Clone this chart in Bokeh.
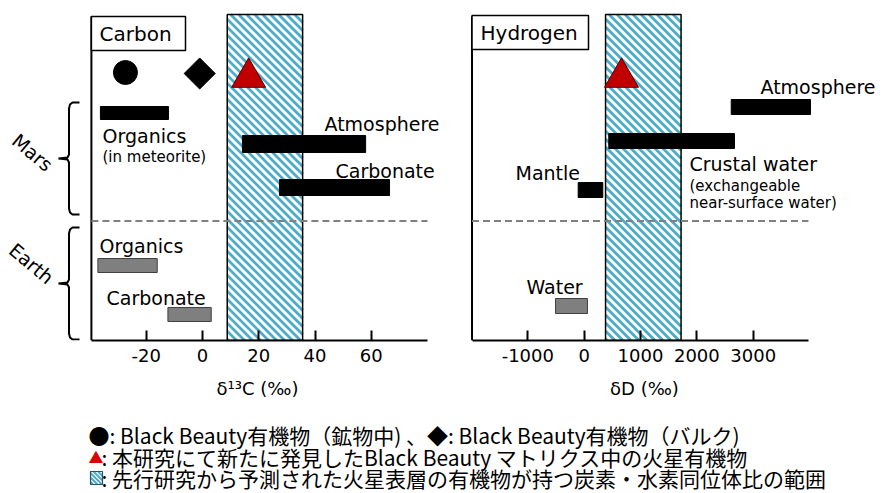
import numpy as np
from bokeh.plotting import figure
from bokeh.models import Range1d, FixedTicker
from bokeh.layouts import column, row
from bokeh.embed import file_html
from bokeh.resources import INLINE
from bokeh.core.properties import value

FONT = "DejaVu Sans"
JP = "Noto Sans CJK JP"

# ---------------- data: carbon (delta13C, permil) ----------------
c_ticks = [-20, 0, 20, 40, 60]
c_axis_range = [-39.5, 80]
c_pred_range = [8.8, 35.6]          # predicted range for Martian surface organics
c_bb_mineral = -27.4                # Black Beauty organics (in minerals)  - circle
c_bb_bulk = -1.0                    # Black Beauty organics (bulk)         - diamond
c_new_matrix = 16.4                 # new Martian organics in BB matrix   - triangle
c_bar_names = ["Organics", "Atmosphere", "Carbonate", "Organics", "Carbonate"]
c_bar_group = ["Mars", "Mars", "Mars", "Earth", "Earth"]
c_bar_lo = [-36.3, 14.2, 27.4, -37.2, -12.3]
c_bar_hi = [-12.1, 58.0, 66.5, -16.1, 3.1]
c_title = "δ¹³C (‰)"

# ---------------- data: hydrogen (deltaD, permil) ----------------
h_ticks = [-1000, 0, 1000, 2000, 3000]
h_axis_range = [-1990, 3980]
h_pred_range = [380, 1720]
h_new_matrix = 663
h_bar_names = ["Atmosphere", "Crustal water", "Mantle", "Water"]
h_bar_group = ["Mars", "Mars", "Mars", "Earth"]
h_bar_lo = [2610, 437, -106, -508]
h_bar_hi = [4017, 2668, 331, 59]
h_title = "δD (‰)"

# ---------------- layout (row positions, in frame units = px above axis) ----------------
c_bar_bottom = [221, 188, 145, 68, 19]
c_bar_top = [234, 205, 161, 82, 33]
h_bar_bottom = [226, 192, 143, 27]
h_bar_top = [241, 207, 158, 42]
marker_row = 267
divider_row = 119.5
frame_top = 340
band_top = 326
axis_top = 324
TOP_H = 374

HATCH = "#4BACC6"
GROUP_FILL = {"Mars": "black", "Earth": "#7F7F7F"}
GROUP_LINE = {"Mars": "black", "Earth": "#404040"}


def txt(p, x, y, s, size="19px", align="left", angle=0.0, color="black", font=FONT):
    p.text(x=[x], y=[y], text=[s], text_font=value(font), text_font_size=size,
           text_align=align, text_baseline="middle", angle=angle, text_color=color)


def stripe_segments(L, R, T, B, step):
    """'\\'-direction stripes inside a screen-space box (y grows downward)."""
    segs = []
    k = T - R
    while k < B - L:
        x0 = max(L, T - k)
        x1 = min(R, B - k)
        if x1 > x0:
            segs.append(((x0, x0 + k), (x1, x1 + k)))
        k += step
    return segs


def panel(width, left_px, zero_px, ppu, axis_range, ticks):
    xs = (left_px - zero_px) / ppu
    xe = (left_px + width - zero_px) / ppu
    p = figure(width=width, height=TOP_H, x_range=Range1d(xs, xe),
               y_range=Range1d(0, frame_top), output_backend="svg",
               toolbar_location=None, y_axis_location=None,
               min_border_left=0, min_border_right=0, min_border_top=0,
               min_border_bottom=TOP_H - frame_top)
    p.outline_line_color = None
    p.xgrid.visible = False
    p.ygrid.visible = False
    ax = p.xaxis[0]
    ax.bounds = (axis_range[0], axis_range[1])
    ax.ticker = FixedTicker(ticks=ticks)
    ax.major_label_overrides = {t: str(t) for t in ticks}
    ax.minor_tick_line_color = None
    ax.major_tick_in = 10
    ax.major_tick_out = 0
    ax.major_tick_line_width = 2
    ax.major_tick_line_color = "black"
    ax.axis_line_width = 2
    ax.axis_line_color = "black"
    ax.major_label_text_font = FONT
    ax.major_label_text_font_size = "18px"
    ax.major_label_text_color = "black"
    ax.major_label_standoff = 8
    # left axis line
    p.segment(x0=[axis_range[0]], y0=[0], x1=[axis_range[0]], y1=[axis_top],
              line_color="black", line_width=2)
    return p


def band(p, rng, zero_px, ppu):
    p.quad(left=[rng[0]], right=[rng[1]], bottom=[0], top=[band_top],
           fill_color="white", line_color=None)
    L = zero_px + ppu * rng[0]
    R = zero_px + ppu * rng[1]
    T = frame_top - band_top
    B = frame_top
    segs = stripe_segments(L, R, T, B, 8)
    xs = [[(a[0] - zero_px) / ppu, (b[0] - zero_px) / ppu] for a, b in segs]
    ys = [[frame_top - a[1], frame_top - b[1]] for a, b in segs]
    p.multi_line(xs=xs, ys=ys, line_color=HATCH, line_width=2.8)
    p.quad(left=[rng[0]], right=[rng[1]], bottom=[0], top=[band_top],
           fill_color=None, line_color="black", line_width=1.5)


def divider(p, axis_range):
    p.segment(x0=[axis_range[0]], y0=[divider_row], x1=[axis_range[1]], y1=[divider_row],
              line_color="#808080", line_width=2, line_dash="7 4")


# ================= Carbon panel =================
C0, CPPU = 202.0, 2.8125
def cx(px):
    return (px - C0) / CPPU

pc = panel(456, 0, C0, CPPU, c_axis_range, c_ticks)
band(pc, c_pred_range, C0, CPPU)
divider(pc, c_axis_range)
pc.quad(left=c_bar_lo, right=c_bar_hi, bottom=c_bar_bottom, top=c_bar_top,
        fill_color=[GROUP_FILL[g] for g in c_bar_group],
        line_color=[GROUP_LINE[g] for g in c_bar_group], line_width=1)
pc.scatter(x=[c_bb_mineral], y=[marker_row + 1], marker="circle", size=24, color="black")
pc.scatter(x=[c_bb_bulk], y=[marker_row], marker="square", angle=np.pi / 4, size=22,
           color="black")
pc.scatter(x=[c_new_matrix], y=[marker_row - 4], marker="triangle", size=34,
           fill_color="#C00000", line_color="#600000", line_width=1)
# title box
pc.quad(left=[c_axis_range[0]], right=[cx(185)], bottom=[290], top=[axis_top],
        fill_color="white", line_color="black", line_width=1.5)
txt(pc, cx(99), 307, "Carbon", size="20px")
# labels
txt(pc, cx(102), 205, "Organics")
txt(pc, cx(102), 184, "(in meteorite)", size="15px")
txt(pc, cx(324), 217, "Atmosphere")
txt(pc, cx(335), 170, "Carbonate")
txt(pc, cx(99), 95, "Organics")
txt(pc, cx(106), 43, "Carbonate")


# braces
def brace(p, top, bot, mid):
    xs_px = [79, 72, 69.5, 68.5, 68.5, 67, 58, 67, 68.5, 68.5, 69.5, 72, 79]
    ys = [top, top, top - 2, top - 6, mid + 4, mid + 1, mid, mid - 1, mid - 4,
          bot + 6, bot + 2, bot, bot]
    p.line(x=[cx(v) for v in xs_px], y=ys, line_color="black", line_width=2)

brace(pc, 238, 126, 182)
brace(pc, 113, 1, 57)
txt(pc, cx(32), 188, "Mars", align="center", angle=-0.70)
txt(pc, cx(31), 77, "Earth", align="center", angle=-0.70)

# ================= Hydrogen panel =================
H0, HPPU = 583.65, 0.05635
def hx(px):
    return (px - H0) / HPPU

ph = panel(426, 456, H0, HPPU, h_axis_range, h_ticks)
band(ph, h_pred_range, H0, HPPU)
divider(ph, h_axis_range)
ph.quad(left=h_bar_lo, right=h_bar_hi, bottom=h_bar_bottom, top=h_bar_top,
        fill_color=[GROUP_FILL[g] for g in h_bar_group],
        line_color=[GROUP_LINE[g] for g in h_bar_group], line_width=1)
ph.scatter(x=[h_new_matrix], y=[marker_row - 4], marker="triangle", size=34,
           fill_color="#C00000", line_color="#600000", line_width=1)
ph.quad(left=[h_axis_range[0]], right=[hx(588)], bottom=[291], top=[axis_top + 1],
        fill_color="white", line_color="black", line_width=1.5)
txt(ph, hx(480), 308, "Hydrogen", size="20px")
txt(ph, hx(760), 254, "Atmosphere")
txt(ph, hx(689), 177, "Crustal water")
txt(ph, hx(689), 155, "(exchangeable", size="15px")
txt(ph, hx(689), 138, "near-surface water)", size="15px")
txt(ph, hx(515), 168, "Mantle")
txt(ph, hx(526), 54, "Water")

# ================= axis titles + legend (bottom strip) =================
BOT_H = 493 - TOP_H
lg = figure(width=882, height=BOT_H, x_range=Range1d(0, 882), y_range=Range1d(BOT_H, 0),
            output_backend="svg", toolbar_location=None, x_axis_location=None,
            y_axis_location=None, min_border_left=0, min_border_right=0,
            min_border_top=0, min_border_bottom=0)
lg.outline_line_color = None
lg.xgrid.visible = False
lg.ygrid.visible = False

def ly(py):
    return py - TOP_H

txt(lg, 257, ly(388), c_title, size="18px", align="center")
txt(lg, 644, ly(388), h_title, size="18px", align="center")

leg1 = "●: Black Beauty有機物（鉱物中) 、◆: Black Beauty有機物（バルク)"
leg2 = ": 本研究にて新たに発見したBlack  Beauty マトリクス中の火星有機物"
leg3 = ": 先行研究から予測された火星表層の有機物が持つ炭素・水素同位体比の範囲"
txt(lg, 88, ly(434), leg1, size="21px", font=JP)
txt(lg, 88, ly(456), "▲", size="15px", font=JP, color="#E00000")
txt(lg, 101, ly(456), leg2, size="21px", font=JP)
# hatched legend icon
iL, iR, iT, iB = 90, 102, ly(471), ly(484)
lg.quad(left=[iL], right=[iR], top=[iT], bottom=[iB], fill_color="white", line_color=None)
isegs = stripe_segments(iL, iR, iT, iB, 4.5)
lg.multi_line(xs=[[a[0], b[0]] for a, b in isegs], ys=[[a[1], b[1]] for a, b in isegs],
              line_color=HATCH, line_width=2)
lg.quad(left=[iL], right=[iR], top=[iT], bottom=[iB], fill_color=None,
        line_color="#2F4F6F", line_width=1.2)
txt(lg, 101, ly(477), leg3, size="21px", font=JP)

layout = column(row(pc, ph), lg)
open("out.html", "w").write(file_html(layout, INLINE))
